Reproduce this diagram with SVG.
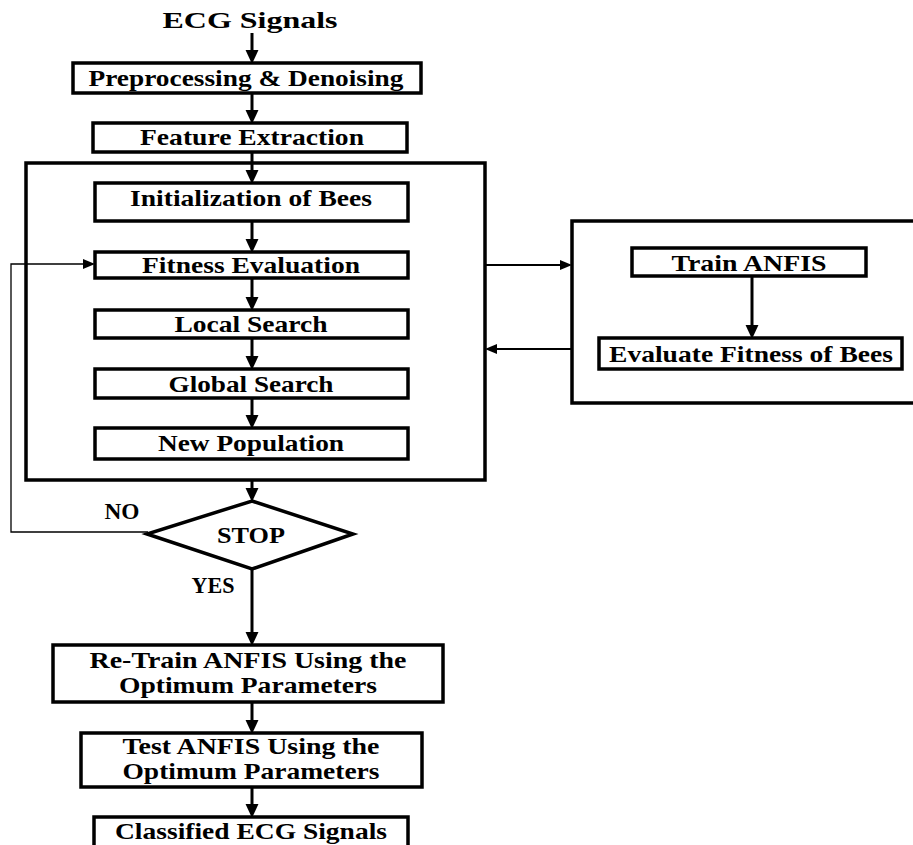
<svg xmlns="http://www.w3.org/2000/svg" width="913" height="845" viewBox="0 0 913 845">
<style>
.box{fill:#fff;stroke:#000;stroke-width:3.5}
.t{font-family:"Liberation Serif","Times New Roman",serif;font-weight:bold;font-size:23px;fill:#000;text-anchor:middle}
.c{stroke:#000;stroke-width:3;fill:none}
.th{stroke:#000;stroke-width:2;fill:none}
.fb{stroke:#000;stroke-width:1.3;fill:none}
</style>
<defs>
<marker id="ah" markerUnits="userSpaceOnUse" markerWidth="14" markerHeight="14" refX="0" refY="6" orient="auto" viewBox="0 0 13 12">
<path d="M0,0 L13,6 L0,12 z" fill="#000"/>
</marker>
<marker id="ahs" markerUnits="userSpaceOnUse" markerWidth="12" markerHeight="12" refX="0" refY="5" orient="auto" viewBox="0 0 12 10">
<path d="M0,0 L12,5 L0,10 z" fill="#000"/>
</marker>
</defs>
<rect width="913" height="845" fill="#fff"/>

<g id="outer-loop"><rect class="box" x="26" y="163" width="459" height="317"/></g>
<g id="anfis-panel"><rect class="box" x="572" y="221" width="350" height="182"/></g>

<g id="connectors">
<line class="c" x1="252" y1="33" x2="252" y2="50" marker-end="url(#ah)"/>
<line class="c" x1="252" y1="93" x2="252" y2="110" marker-end="url(#ah)"/>
<line class="c" x1="252" y1="152" x2="252" y2="170" marker-end="url(#ah)"/>
<line class="c" x1="252" y1="221" x2="252" y2="239" marker-end="url(#ah)"/>
<line class="c" x1="252" y1="278" x2="252" y2="297" marker-end="url(#ah)"/>
<line class="c" x1="252" y1="338" x2="252" y2="356" marker-end="url(#ah)"/>
<line class="c" x1="252" y1="398" x2="252" y2="415" marker-end="url(#ah)"/>
<line class="c" x1="252" y1="480" x2="252" y2="488" marker-end="url(#ah)"/>
<line class="c" x1="252" y1="569" x2="252" y2="632" marker-end="url(#ah)"/>
<line class="c" x1="252" y1="702" x2="252" y2="720" marker-end="url(#ah)"/>
<line class="c" x1="252" y1="787" x2="252" y2="804" marker-end="url(#ah)"/>
<line class="c" x1="752" y1="276" x2="752" y2="325" marker-end="url(#ah)"/>
<line class="th" x1="485" y1="265" x2="560" y2="265" marker-end="url(#ahs)"/>
<line class="th" x1="572" y1="349" x2="497" y2="349" marker-end="url(#ahs)"/>
<polyline class="fb" points="148,532 11,532 11,264 83,264" marker-end="url(#ahs)"/>
</g>

<g id="ecg-signals"><text class="t" x="250" y="28" font-size="27" textLength="175" lengthAdjust="spacingAndGlyphs">ECG Signals</text></g>
<g id="preprocessing"><rect class="box" x="73" y="63" width="348" height="30"/><text class="t" x="246" y="86" textLength="315" lengthAdjust="spacingAndGlyphs">Preprocessing &amp; Denoising</text></g>
<g id="feature-extraction"><rect class="box" x="93" y="123" width="314" height="29"/><text class="t" x="252" y="145" textLength="224" lengthAdjust="spacingAndGlyphs">Feature Extraction</text></g>
<g id="init-bees"><rect class="box" x="95" y="183" width="313" height="38"/><text class="t" x="251" y="206" textLength="242" lengthAdjust="spacingAndGlyphs">Initialization of Bees</text></g>
<g id="fitness-eval"><rect class="box" x="95" y="252" width="313" height="26"/><text class="t" x="251" y="273" textLength="218" lengthAdjust="spacingAndGlyphs">Fitness Evaluation</text></g>
<g id="local-search"><rect class="box" x="95" y="310" width="313" height="28"/><text class="t" x="251" y="332" textLength="153" lengthAdjust="spacingAndGlyphs">Local Search</text></g>
<g id="global-search"><rect class="box" x="95" y="369" width="313" height="29"/><text class="t" x="251" y="392" textLength="165" lengthAdjust="spacingAndGlyphs">Global Search</text></g>
<g id="new-population"><rect class="box" x="95" y="428" width="313" height="31"/><text class="t" x="251" y="451" textLength="186" lengthAdjust="spacingAndGlyphs">New Population</text></g>
<g id="train-anfis"><rect class="box" x="632" y="248" width="234" height="28"/><text class="t" x="749" y="271" textLength="155" lengthAdjust="spacingAndGlyphs">Train ANFIS</text></g>
<g id="evaluate-fitness"><rect class="box" x="599" y="338" width="303" height="31"/><text class="t" x="751" y="362" textLength="284" lengthAdjust="spacingAndGlyphs">Evaluate Fitness of Bees</text></g>
<g id="stop"><polygon class="box" points="252,501 353,534 252,569 147,534"/><text class="t" x="251" y="543" textLength="68" lengthAdjust="spacingAndGlyphs">STOP</text></g>
<g id="label-no"><text class="t" x="122" y="519" font-size="17" textLength="35" lengthAdjust="spacingAndGlyphs">NO</text></g>
<g id="label-yes"><text class="t" x="213" y="593" font-size="17" textLength="43" lengthAdjust="spacingAndGlyphs">YES</text></g>
<g id="retrain"><rect class="box" x="53" y="645" width="390" height="57"/><text class="t" x="248" y="668" textLength="317" lengthAdjust="spacingAndGlyphs">Re-Train ANFIS Using the</text><text class="t" x="248" y="693" textLength="258" lengthAdjust="spacingAndGlyphs">Optimum Parameters</text></g>
<g id="test"><rect class="box" x="81" y="733" width="341" height="54"/><text class="t" x="251" y="754" textLength="257" lengthAdjust="spacingAndGlyphs">Test ANFIS Using the</text><text class="t" x="251" y="779" textLength="257" lengthAdjust="spacingAndGlyphs">Optimum Parameters</text></g>
<g id="classified"><rect class="box" x="94" y="817" width="314" height="40"/><text class="t" x="251" y="839" textLength="272" lengthAdjust="spacingAndGlyphs">Classified ECG Signals</text></g>
</svg>
